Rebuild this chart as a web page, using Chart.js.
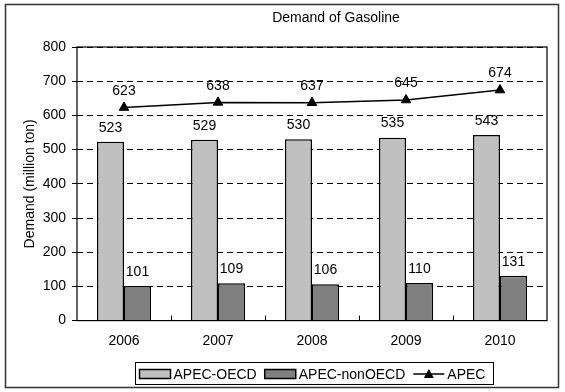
<!DOCTYPE html>
<html>
<head>
<meta charset="utf-8">
<script src="https://cdn.jsdelivr.net/npm/chart.js@4/dist/chart.umd.min.js"></script>
<style>
  html, body { margin: 0; padding: 0; background: #fff; }
  #wrap { position: relative; width: 565px; height: 392px; }
</style>
</head>
<body>
<div id="wrap"><canvas id="c" width="565" height="392"></canvas></div>
<script>
const years = ['2006', '2007', '2008', '2009', '2010'];
const oecdValues = [523, 529, 530, 535, 543];
const nonOecdValues = [101, 109, 106, 110, 131];
const apecValues = [623, 638, 637, 645, 674];
const seriesNames = ['APEC-OECD', 'APEC-nonOECD', 'APEC'];
const chartTitle = 'Demand of Gasoline';
const yAxisTitle = 'Demand (million ton)';
const yMin = 0, yMax = 800, yStep = 100;

const FONT = '"Liberation Sans", Arial, sans-serif';
const FS = 14;

const customPlugin = {
  id: 'custom',
  beforeDraw(chart) {
    const ctx = chart.ctx;
    ctx.save();
    ctx.fillStyle = '#fff';
    ctx.fillRect(0, 0, chart.width, chart.height);
    ctx.restore();
  },
  afterDatasetsDraw(chart) {
    const ctx = chart.ctx;
    ctx.save();
    ctx.font = FS + 'px ' + FONT;
    ctx.fillStyle = '#000';
    ctx.textAlign = 'center';
    ctx.textBaseline = 'middle';
    chart.data.datasets.forEach((ds, di) => {
      const meta = chart.getDatasetMeta(di);
      meta.data.forEach((el, i) => {
        const off = ds.type === 'line' ? 16.5 : 14;
        ctx.fillText(String(ds.data[i]), el.x, el.y - off);
      });
    });
    ctx.restore();
  },
  afterDraw(chart) {
    const ctx = chart.ctx;
    const a = chart.chartArea;
    const xs = chart.scales.x;
    ctx.save();
    // plot border
    ctx.strokeStyle = '#000';
    ctx.lineWidth = 1.2;
    ctx.strokeRect(a.left, a.top, a.right - a.left, a.bottom - a.top);
    // inner category ticks on x axis
    ctx.lineWidth = 1;
    for (let i = 1; i < years.length; i++) {
      const x = Math.round((xs.getPixelForValue(i - 1) + xs.getPixelForValue(i)) / 2) + 0.5;
      ctx.beginPath();
      ctx.moveTo(x, a.bottom);
      ctx.lineTo(x, a.bottom - 5);
      ctx.stroke();
    }
    // title
    ctx.font = FS + 'px ' + FONT;
    ctx.fillStyle = '#000';
    ctx.textAlign = 'center';
    ctx.textBaseline = 'middle';
    ctx.fillText(chartTitle, 336, 18);
    // legend
    const ds = chart.data.datasets;
    const sw = 31, gap = 3, itemGap = 8, padL = 4, padR = 8;
    const widths = ds.map(d => ctx.measureText(d.label).width);
    let total = padL + padR;
    widths.forEach((w, i) => { total += sw + gap + w + (i < widths.length - 1 ? itemGap : 0); });
    const cx = 313.5, top = 362, h = 22;
    const left = Math.round(cx - total / 2) + 0.5;
    ctx.lineWidth = 1;
    ctx.strokeStyle = '#000';
    ctx.strokeRect(left, top + 0.5, Math.round(total), h);
    const cy = 374;
    let x = left + padL;
    ds.forEach((d, i) => {
      if (d.type === 'line') {
        ctx.beginPath();
        ctx.lineWidth = 1.5;
        ctx.strokeStyle = '#000';
        ctx.moveTo(x, cy);
        ctx.lineTo(x + sw, cy);
        ctx.stroke();
        const tx = x + sw / 2;
        ctx.beginPath();
        ctx.moveTo(tx, cy - 5);
        ctx.lineTo(tx + 5, cy + 4);
        ctx.lineTo(tx - 5, cy + 4);
        ctx.closePath();
        ctx.fillStyle = '#000';
        ctx.fill();
      } else {
        ctx.fillStyle = d.backgroundColor;
        ctx.fillRect(x, cy - 4.5, sw, 9);
        ctx.lineWidth = 1.5;
        ctx.strokeStyle = '#000';
        ctx.strokeRect(x, cy - 4.5, sw, 9);
      }
      x += sw + gap;
      ctx.fillStyle = '#000';
      ctx.textAlign = 'left';
      ctx.fillText(d.label, x, cy + 1);
      x += widths[i] + itemGap;
    });
    // outer frame
    ctx.lineWidth = 1.5;
    ctx.strokeStyle = '#333';
    ctx.strokeRect(5.5, 4.5, 553, 383);
    ctx.restore();
  }
};

new Chart(document.getElementById('c'), {
  data: {
    labels: years,
    datasets: [
      {
        type: 'bar', label: seriesNames[0], data: oecdValues,
        backgroundColor: '#c0c0c0', borderColor: '#000', borderWidth: 1.5,
        categoryPercentage: 0.575, barPercentage: 1, order: 2
      },
      {
        type: 'bar', label: seriesNames[1], data: nonOecdValues,
        backgroundColor: '#808080', borderColor: '#000', borderWidth: 1.5,
        categoryPercentage: 0.575, barPercentage: 1, order: 2
      },
      {
        type: 'line', label: seriesNames[2], data: apecValues,
        borderColor: '#000', borderWidth: 1.5, backgroundColor: '#000',
        pointStyle: 'triangle', pointRadius: 5.5, pointBackgroundColor: '#000',
        pointBorderColor: '#000', pointBorderWidth: 1, tension: 0, order: 0
      }
    ]
  },
  options: {
    responsive: false,
    animation: false,
    devicePixelRatio: 1,
    layout: { padding: { left: 5, right: 18, top: 47, bottom: 0 } },
    plugins: {
      legend: { display: false },
      title: { display: false },
      tooltip: { enabled: false }
    },
    scales: {
      x: {
        type: 'category',
        offset: true,
        grid: { display: false, drawTicks: false },
        border: { display: false },
        ticks: { color: '#000', font: { family: FONT, size: FS }, padding: 12, maxRotation: 0 },
        afterFit(s) { s.height = 71.4; }
      },
      y: {
        min: yMin, max: yMax,
        ticks: { stepSize: yStep, color: '#000', font: { family: FONT, size: FS }, padding: 6 },
        grid: {
          color: '#000', lineWidth: 1, tickBorderDash: [],
          tickLength: 5, tickColor: '#000', tickWidth: 1
        },
        border: { display: false, dash: [6, 4] },
        title: {
          display: true, text: yAxisTitle, color: '#000',
          font: { family: FONT, size: FS }, padding: { top: 16.6, bottom: 0 }
        },
        afterFit(s) { s.width = 72; }
      }
    }
  },
  plugins: [customPlugin]
});
</script>
</body>
</html>
